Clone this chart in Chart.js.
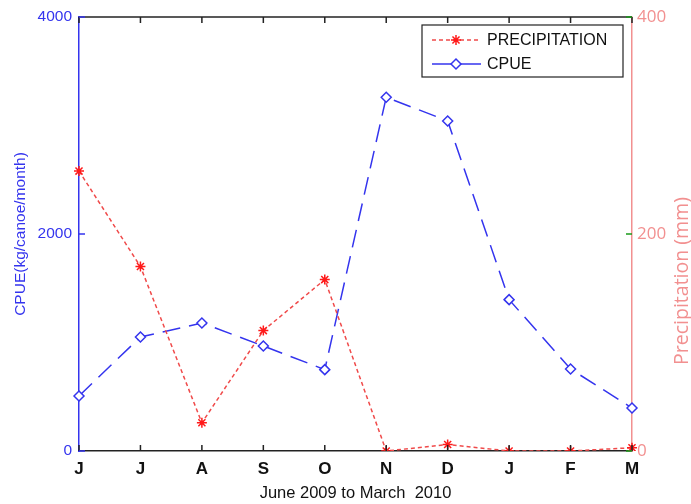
<!DOCTYPE html>
<html>
<head>
<meta charset="utf-8">
<script src="https://cdn.jsdelivr.net/npm/chart.js@4.4.1/dist/chart.umd.min.js"></script>
<style>
    html, body { margin: 0; padding: 0; background: #fff; }
    canvas { display: block; }
</style>
</head>
<body>
<canvas id="chartCpue" width="691" height="504"></canvas>
<script>
(function () {
    "use strict";

    const months = ["J", "J", "A", "S", "O", "N", "D", "J", "F", "M"];
    const precipitation = [258, 170, 26, 111, 158, 0, 6, 0, 0, 3];
    const cpue = [507, 1051, 1180, 968, 750, 3260, 3042, 1395, 756, 396];
    const cpueTicks = [0, 2000, 4000];
    const precipTicks = [0, 200, 400];

    const palette = {
        blue: "#3434ee",
        red: "#ff1a1a",
        redLine: "#f04a4a",
        salmon: "#f29090",
        green: "#1a9a1a",
        text: "#111111"
    };

    const frame = {
        id: "frame",
        afterDraw(chart) {
            const ctx = chart.ctx;
            const a = chart.chartArea;
            const x = chart.scales.x, y = chart.scales.y, y2 = chart.scales.y2;
            ctx.save();
            ctx.lineWidth = 1.5;

            // top border + ticks
            ctx.strokeStyle = "#222";
            ctx.beginPath();
            ctx.moveTo(a.left, a.top);
            ctx.lineTo(a.right, a.top);
            ctx.stroke();
            ctx.beginPath();
            months.forEach((m, i) => {
                const px = x.getPixelForValue(i);
                ctx.moveTo(px, a.top); ctx.lineTo(px, a.top + 6);
                ctx.moveTo(px, a.bottom); ctx.lineTo(px, a.bottom - 6);
            });
            ctx.stroke();

            // left ticks
            ctx.strokeStyle = palette.blue;
            ctx.beginPath();
            cpueTicks.forEach(v => {
                const py = y.getPixelForValue(v);
                ctx.moveTo(a.left, py); ctx.lineTo(a.left + 6, py);
            });
            ctx.stroke();

            // right ticks
            ctx.strokeStyle = palette.green;
            ctx.beginPath();
            precipTicks.forEach(v => {
                const py = y2.getPixelForValue(v);
                ctx.moveTo(a.right, py); ctx.lineTo(a.right - 6, py);
            });
            ctx.stroke();

            // right title
            ctx.fillStyle = palette.salmon;
            ctx.font = "19.5px 'Open Sans'";
            ctx.textAlign = "center";
            ctx.textBaseline = "middle";
            ctx.translate(682, 281);
            ctx.rotate(-Math.PI / 2);
            ctx.fillText("Precipitation (mm)", 0, 0);
            ctx.restore();

            // legend box
            ctx.save();
            ctx.fillStyle = "#fff";
            ctx.strokeStyle = "#222";
            ctx.lineWidth = 1.2;
            ctx.fillRect(422, 25, 201, 52);
            ctx.strokeRect(422, 25, 201, 52);

            const drawPoint = Chart.helpers && Chart.helpers.drawPoint;
            // precipitation row
            ctx.strokeStyle = palette.redLine;
            ctx.lineWidth = 1.5;
            ctx.setLineDash([4, 3]);
            ctx.beginPath(); ctx.moveTo(432, 40); ctx.lineTo(481, 40); ctx.stroke();
            ctx.setLineDash([]);
            if (drawPoint) {
                ctx.strokeStyle = palette.red; ctx.fillStyle = palette.red; ctx.lineWidth = 1.5;
                drawPoint(ctx, { pointStyle: "star", radius: 5, borderWidth: 1.5 }, 456, 40);
            }
            // cpue row
            ctx.strokeStyle = palette.blue;
            ctx.lineWidth = 1.5;
            ctx.beginPath(); ctx.moveTo(432, 64); ctx.lineTo(481, 64); ctx.stroke();
            if (drawPoint) {
                ctx.strokeStyle = palette.blue; ctx.fillStyle = "#fff"; ctx.lineWidth = 1.5;
                drawPoint(ctx, { pointStyle: "rectRot", radius: 5, borderWidth: 1.5 }, 456, 64);
            }
            ctx.fillStyle = palette.text;
            ctx.font = "16px Arial, 'Liberation Sans'";
            ctx.textAlign = "left";
            ctx.textBaseline = "middle";
            ctx.fillText("PRECIPITATION", 487, 41);
            ctx.fillText("CPUE", 487, 65);
            ctx.restore();
        }
    };

    new Chart(document.getElementById("chartCpue"), {
        type: "line",
        data: {
            labels: months,
            datasets: [
                {
                    label: "PRECIPITATION",
                    data: precipitation,
                    yAxisID: "y2",
                    borderColor: palette.redLine,
                    borderWidth: 1.5,
                    borderDash: [4, 3],
                    pointStyle: "star",
                    pointRadius: 5,
                    pointBorderWidth: 1.5,
                    pointBorderColor: palette.red,
                    pointBackgroundColor: palette.red,
                    tension: 0,
                    fill: false
                },
                {
                    label: "CPUE",
                    data: cpue,
                    yAxisID: "y",
                    borderColor: palette.blue,
                    borderWidth: 1.5,
                    borderDash: [18, 9],
                    pointStyle: "rectRot",
                    pointRadius: 5,
                    pointBorderWidth: 1.5,
                    pointBorderColor: palette.blue,
                    pointBackgroundColor: "#fff",
                    tension: 0,
                    fill: false
                }
            ]
        },
        options: {
            responsive: false,
            animation: false,
            layout: { padding: { top: 17, left: 0, right: 0, bottom: 0 } },
            plugins: { legend: { display: false }, tooltip: { enabled: false } },
            scales: {
                x: {
                    type: "category",
                    offset: false,
                    grid: { display: false, drawTicks: false },
                    border: { display: true, color: "#222", width: 1.5 },
                    ticks: {
                        color: palette.text,
                        font: { family: "Arial, 'Liberation Sans'", size: 17, weight: "bold" },
                        padding: 8,
                        maxRotation: 0,
                        autoSkip: false
                    },
                    title: {
                        display: true,
                        text: "June 2009 to March  2010",
                        color: palette.text,
                        font: { family: "Arial, 'Liberation Sans'", size: 16.5 },
                        padding: { top: 0, bottom: 1 }
                    },
                    afterFit: (s) => { s.height = 53; }
                },
                y: {
                    position: "left",
                    min: 0,
                    max: 4000,
                    afterBuildTicks: (s) => { s.ticks = cpueTicks.map(v => ({ value: v })); },
                    grid: { display: false, drawTicks: false },
                    border: { display: true, color: palette.blue, width: 1.5 },
                    ticks: {
                        color: palette.blue,
                        font: { family: "Arial, 'Liberation Sans'", size: 15.5 },
                        padding: 7,
                        callback: (v) => String(v)
                    },
                    title: {
                        display: true,
                        text: "CPUE(kg/canoe/month)",
                        color: palette.blue,
                        font: { family: "Arial, 'Liberation Sans'", size: 15.5 },
                        padding: { top: 11, bottom: 0 }
                    },
                    afterFit: (s) => { s.width = 79; }
                },
                y2: {
                    position: "right",
                    min: 0,
                    max: 400,
                    afterBuildTicks: (s) => { s.ticks = precipTicks.map(v => ({ value: v })); },
                    grid: { display: false, drawTicks: false },
                    border: { display: true, color: palette.salmon, width: 1.5 },
                    ticks: {
                        color: palette.salmon,
                        font: { family: "'Open Sans'", size: 17 },
                        padding: 5,
                        callback: (v) => String(v)
                    },
                    afterFit: (s) => { s.width = 59; }
                }
            }
        },
        plugins: [frame]
    });
})();
</script>
</body>
</html>
